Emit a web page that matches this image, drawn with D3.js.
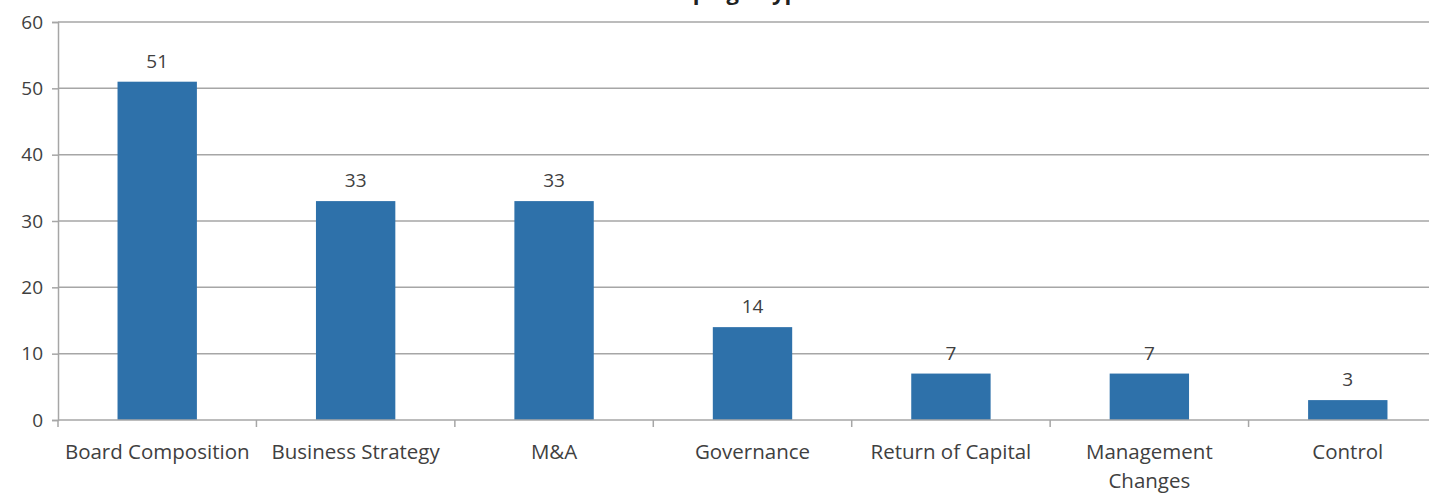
<!DOCTYPE html>
<html>
<head>
<meta charset="utf-8">
<script src="https://cdn.jsdelivr.net/npm/d3@7"></script>
<style>
  html, body { margin: 0; padding: 0; background: #fff; }
  svg { display: block; font-family: "Open Sans", "Noto Sans", sans-serif; }
</style>
</head>
<body>
<svg id="chart" width="1429" height="494"></svg>
<script>
// chart data
const categories = ["Board Composition", "Business Strategy", "M&A", "Governance",
                    "Return of Capital", "Management Changes", "Control"];
const tickLabels = ["Board Composition", "Business Strategy", "M&A", "Governance",
                    "Return of Capital", "Management\nChanges", "Control"];
const values = [51, 33, 33, 14, 7, 7, 3];
const yTicks = [0, 10, 20, 30, 40, 50, 60];
const title = "Campaign Types";

const svg = d3.select("#chart");
const margin = { left: 58, top: 22, bottom: 420, right: 1447 };

const x = d3.scaleBand()
    .domain(categories)
    .range([margin.left, margin.right])
    .paddingInner(0.6)
    .paddingOuter(0.3);

const y = d3.scaleLinear()
    .domain([0, 60])
    .range([margin.bottom, margin.top]);

// title (mostly cut off above the picture, as in the source)
svg.append("text")
    .attr("x", 733)
    .attr("y", 0)
    .attr("text-anchor", "middle")
    .attr("font-size", 22)
    .attr("font-weight", "bold")
    .attr("fill", "#222")
    .text(title);

// gridlines
svg.append("g")
    .selectAll("line")
    .data(yTicks.filter(d => d > 0))
    .join("line")
    .attr("x1", margin.left)
    .attr("x2", 1429)
    .attr("y1", d => y(d))
    .attr("y2", d => y(d))
    .attr("stroke", "#a6a6a6")
    .attr("stroke-width", 1.5);

// y axis
const yAxis = svg.append("g")
    .attr("transform", `translate(${margin.left},0)`)
    .call(d3.axisLeft(y).tickValues(yTicks).tickSize(6).tickPadding(9));
yAxis.select(".domain").attr("stroke", "#a6a6a6").attr("stroke-width", 1.5);
yAxis.selectAll(".tick line").attr("stroke", "#a6a6a6").attr("stroke-width", 1.5);
yAxis.selectAll(".tick text")
    .attr("font-size", 19)
    .attr("fill", "#404040")
    .style("font-family", "'Open Sans', sans-serif");

// bars
svg.append("g")
    .selectAll("rect")
    .data(values)
    .join("rect")
    .attr("x", (d, i) => x(categories[i]))
    .attr("width", x.bandwidth())
    .attr("y", d => y(d))
    .attr("height", d => y(0) - y(d))
    .attr("fill", "#2e71aa");

// value labels
svg.append("g")
    .selectAll("text")
    .data(values)
    .join("text")
    .attr("x", (d, i) => x(categories[i]) + x.bandwidth() / 2)
    .attr("y", d => y(d) - 14)
    .attr("text-anchor", "middle")
    .attr("font-size", 19)
    .attr("fill", "#404040")
    .text(d => d);

// x axis: tick marks sit on band boundaries
const step = x.step();
const bounds = d3.range(categories.length + 1).map(i => margin.left + i * step);
svg.append("line")
    .attr("x1", margin.left).attr("x2", 1429)
    .attr("y1", y(0)).attr("y2", y(0))
    .attr("stroke", "#a6a6a6").attr("stroke-width", 1.5);
svg.append("g")
    .selectAll("line")
    .data(bounds)
    .join("line")
    .attr("x1", d => d).attr("x2", d => d)
    .attr("y1", y(0)).attr("y2", y(0) + 7)
    .attr("stroke", "#a6a6a6").attr("stroke-width", 1.5);

const xl = svg.append("g")
    .selectAll("text")
    .data(tickLabels)
    .join("text")
    .attr("x", (d, i) => x(categories[i]) + x.bandwidth() / 2)
    .attr("y", 459)
    .attr("text-anchor", "middle")
    .attr("font-size", 20.5)
    .attr("fill", "#404040");
xl.each(function(d) {
    const t = d3.select(this);
    d.split("\n").forEach((line, k) => {
        t.append("tspan")
            .attr("x", t.attr("x"))
            .attr("dy", k === 0 ? 0 : 29)
            .text(line);
    });
});
</script>
</body>
</html>
